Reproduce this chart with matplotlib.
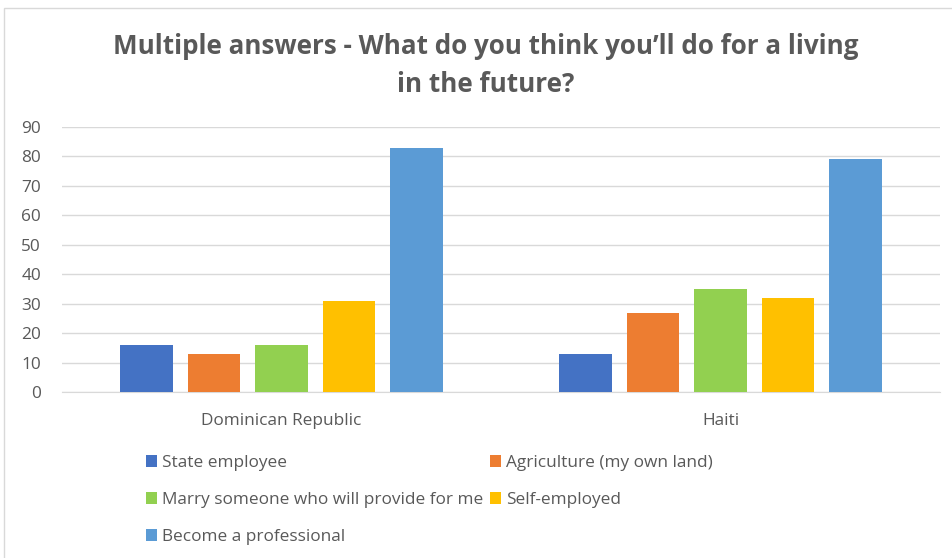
import matplotlib
matplotlib.use("Agg")
import matplotlib.pyplot as plt
from matplotlib.patches import Rectangle, Patch
import numpy as np

countries = ["Dominican Republic", "Haiti"]
answers = [
    "State employee",
    "Agriculture (my own land)",
    "Marry someone who will provide for me",
    "Self-employed",
    "Become a professional",
]
state_employee = [16, 13]
agriculture = [13, 27]
marry = [16, 35]
self_employed = [31, 32]
professional = [83, 79]
yticks = [0, 10, 20, 30, 40, 50, 60, 70, 80, 90]

series = [state_employee, agriculture, marry, self_employed, professional]
colors = ["#4472C4", "#ED7D31", "#92D050", "#FFC000", "#5B9BD5"]

plt.rcParams["font.family"] = ["Open Sans", "DejaVu Sans"]
text_color = "#595959"

W, H = 953, 558
fig = plt.figure(figsize=(W / 100, H / 100), dpi=100)

# chart frame
fig.patches.append(Rectangle((4 / W, -0.01), 1.02, 1 - 8 / H + 0.01,
                             transform=fig.transFigure, fill=False,
                             edgecolor="#D9D9D9", linewidth=1))

left, right = 62, 940
top, bottom = 127, 392
ax = fig.add_axes([left / W, 1 - bottom / H, (right - left) / W, (bottom - top) / H])

x = np.arange(len(countries))
step = 0.154
width = 0.12
for i, (vals, c) in enumerate(zip(series, colors)):
    ax.bar(x + (i - 2) * step, vals, width=width, color=c, label=answers[i], zorder=3)

ax.set_xlim(-0.5, 1.5)
ax.set_ylim(0, 90)
ax.set_yticks(yticks)
ax.set_xticks(x)
ax.set_xticklabels(countries)
ax.yaxis.grid(True, color="#D9D9D9", linewidth=1)
ax.set_axisbelow(True)
for s in ["top", "right", "left"]:
    ax.spines[s].set_visible(False)
ax.spines["bottom"].set_color("#D9D9D9")
ax.tick_params(axis="both", length=0, labelsize=12.4, colors=text_color)
ax.tick_params(axis="y", pad=15)
ax.tick_params(axis="x", pad=15)

title_x = 485.5 / W
fig.text(title_x, 1 - 47 / H, "Multiple answers - What do you think you\u2019ll do for a living",
         ha="center", va="center", fontsize=18.7, fontweight="bold", color=text_color)
fig.text(title_x, 1 - 85 / H, "in the future?",
         ha="center", va="center", fontsize=18.7, fontweight="bold", color=text_color)

order = [0, 2, 4, 1, 3]
handles = [Patch(facecolor=colors[i], label=answers[i]) for i in order]
leg = fig.legend(handles=handles, ncol=2, loc="upper left",
                 bbox_to_anchor=(146 / W, 1 - 455 / H), frameon=False,
                 borderpad=0, borderaxespad=0,
                 fontsize=12.4, handlelength=0.65, handleheight=0.65,
                 handletextpad=0.3, columnspacing=0.35, labelspacing=1.22)
for t in leg.get_texts():
    t.set_color(text_color)

fig.savefig("out.png", dpi=100)
